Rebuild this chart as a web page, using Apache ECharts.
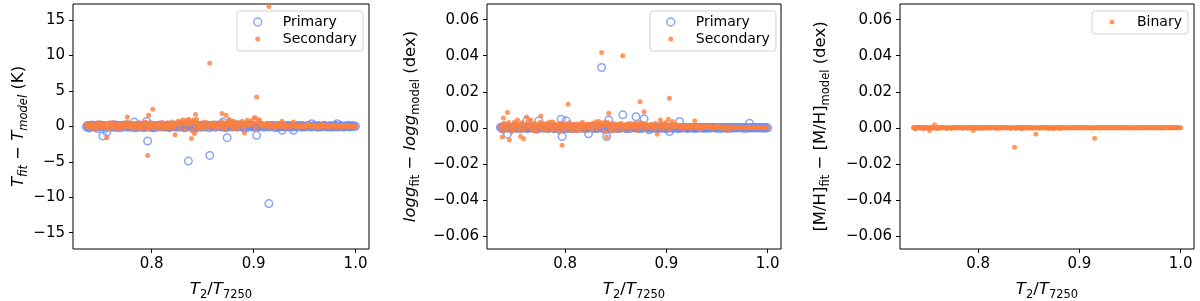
<!DOCTYPE html>
<html><head><meta charset="utf-8">
<script src="https://cdn.jsdelivr.net/npm/echarts@6/dist/echarts.min.js"></script>
<style>html,body{margin:0;padding:0;background:#fff}#c{width:1200px;height:301px}</style>
</head><body><div id="c"></div>
<script>
// T2 / T7250 ratio of the binaries with visible residuals
const ratio = [
 0.736,0.738,0.739,0.741,0.743,0.745,0.747,0.749,0.752,0.753,
 0.756,0.757,0.759,0.762,0.764,0.766,0.769,0.771,0.774,0.776,
 0.777,0.780,0.783,0.785,0.788,0.790,0.793,0.795,0.796,0.797,
 0.799,0.801,0.803,0.806,0.808,0.811,0.813,0.816,0.818,0.821,
 0.823,0.826,0.828,0.831,0.833,0.836,0.837,0.839,0.841,0.842,
 0.843,0.844,0.846,0.849,0.851,0.854,0.857,0.859,0.862,0.864,
 0.867,0.869,0.870,0.873,0.874,0.876,0.878,0.880,0.883,0.885,
 0.888,0.891,0.894,0.896,0.899,0.902,0.903,0.906,0.908,0.911,
 0.913,0.915,0.918,0.921,0.924,0.926,0.928,0.931,0.934,0.937,
 0.939,0.942,0.945,0.948,0.951,0.954,0.957,0.960,0.963,0.966,
 0.969,0.972,0.975,0.978,0.980,0.982,0.985,0.988,0.991,0.994,
 0.997,1.000];

// T2 / T7250 ratio of the bulk of well-recovered binaries (dense band near zero)
const ratioBulk = [
 0.7368,0.7381,0.7397,0.7412,0.7425,0.7441,0.7456,0.7470,0.7484,0.7499,
 0.7515,0.7528,0.7543,0.7559,0.7572,0.7588,0.7601,0.7617,0.7631,0.7645,
 0.7660,0.7676,0.7689,0.7704,0.7719,0.7733,0.7749,0.7762,0.7778,0.7791,
 0.7806,0.7822,0.7835,0.7850,0.7866,0.7879,0.7894,0.7909,0.7923,0.7939,
 0.7952,0.7967,0.7983,0.7996,0.8011,0.8027,0.8040,0.8055,0.8071,0.8084,
 0.8099,0.8114,0.8128,0.8144,0.8157,0.8172,0.8188,0.8201,0.8216,0.8232,
 0.8245,0.8260,0.8275,0.8289,0.8305,0.8318,0.8333,0.8349,0.8362,0.8377,
 0.8393,0.8406,0.8421,0.8436,0.8450,0.8466,0.8479,0.8494,0.8510,0.8523,
 0.8538,0.8554,0.8567,0.8582,0.8597,0.8611,0.8627,0.8640,0.8655,0.8671,
 0.8684,0.8699,0.8715,0.8728,0.8743,0.8758,0.8772,0.8788,0.8801,0.8816,
 0.8832,0.8845,0.8860,0.8876,0.8889,0.8904,0.8919,0.8933,0.8949,0.8962,
 0.8977,0.8993,0.9006,0.9021,0.9037,0.9050,0.9065,0.9080,0.9094,0.9110,
 0.9123,0.9138,0.9154,0.9167,0.9182,0.9198,0.9211,0.9226,0.9241,0.9255,
 0.9271,0.9284,0.9299,0.9315,0.9328,0.9343,0.9359,0.9372,0.9387,0.9402,
 0.9416,0.9432,0.9445,0.9460,0.9476,0.9489,0.9504,0.9520,0.9533,0.9548,
 0.9563,0.9577,0.9593,0.9606,0.9621,0.9637,0.9650,0.9665,0.9681,0.9694,
 0.9709,0.9724,0.9738,0.9754,0.9767,0.9782,0.9798,0.9811,0.9826,0.9842,
 0.9855,0.9870,0.9885,0.9899,0.9915,0.9928,0.9943,0.9959,0.9972,0.9987];

// Teff residuals (K)
const teffPrimary = [
 -0.1,0.1,-0.2,0.05,0.1,-0.1,0.2,0.0,-1.37,0.1,
 -0.8,0.0,0.1,-0.1,0.2,0.0,-0.2,0.1,0.0,0.1,
 -0.1,0.0,0.6,-0.2,0.1,0.0,-0.1,0.7,-2.07,0.1,
 0.0,-0.2,0.1,0.0,0.2,-0.1,0.0,0.1,-0.1,0.0,
 0.1,-0.1,0.0,0.2,-0.1,-4.9,0.1,0.0,-0.2,0.1,
 -0.3,0.0,0.1,-0.1,0.0,0.2,-4.1,0.0,-0.1,0.1,
 0.0,0.1,0.6,-0.1,-1.6,0.0,0.2,0.4,-0.1,0.0,
 0.1,-0.2,0.0,0.1,-0.1,0.0,-1.27,0.1,0.0,-0.1,
 0.0,-10.9,0.1,0.0,-0.1,0.1,-0.56,0.0,0.1,-0.1,
 -0.56,0.0,0.1,-0.1,0.0,0.1,0.38,0.0,-0.1,0.0,
 0.1,0.0,-0.1,0.0,0.1,0.38,0.0,-0.1,0.0,0.1,
 0.0,0.0];
const teffPrimaryBulk = [
 0.1,-0.2,0.0,0.2,-0.1,0.0,0.1,-0.3,0.0,0.2,
 -0.1,0.0,0.1,-0.2,0.0,0.1,0.0,-0.1,0.2,0.0,
 -0.2,0.1,0.0,0.0,-0.1,0.2,0.0,-0.1,0.1,0.0,
 0.0,-0.2,0.1,0.0,0.2,-0.1,0.0,0.1,-0.2,0.0,
 0.1,0.0,-0.1,0.2,0.0,-0.2,0.1,0.0,-0.1,0.1,
 0.0,0.2,-0.1,0.0,0.1,-0.2,0.0,0.1,0.0,-0.1,
 0.2,0.0,-0.1,0.1,0.0,-0.2,0.1,0.0,0.2,-0.1,
 0.0,0.1,-0.2,0.0,0.1,0.0,-0.1,0.2,0.0,-0.1,
 0.1,0.0,-0.2,0.1,0.0,0.1,-0.1,0.0,0.2,0.0,
 -0.1,0.1,0.0,-0.2,0.1,0.0,0.2,-0.1,0.0,0.1,
 0.0,-0.1,0.2,0.0,-0.1,0.1,0.0,-0.2,0.1,0.0,
 0.1,0.0,-0.1,0.0,0.2,-0.1,0.0,0.1,-0.1,0.0,
 0.0,0.1,-0.1,0.0,0.1,0.0,-0.2,0.1,0.0,-0.1,
 0.1,0.0,-0.1,0.1,0.0,-0.1,0.1,0.0,-0.1,0.0,
 0.0,0.1,0.0,-0.1,0.1,0.0,-0.1,0.0,0.1,0.0,
 -0.1,0.0,0.1,0.0,-0.1,0.1,0.0,-0.1,0.0,0.1,
 0.0,-0.1,0.0,0.1,0.0,-0.1,0.1,0.0,-0.1,0.0,
 0.1,0.0,-0.1,0.0,0.1,0.0,-0.1,0.0,0.1,0.0];
const teffSecondary = [
 0.2,-0.1,0.3,0.1,-0.3,0.2,0.4,0.0,-0.2,0.3,
 -1.6,0.2,0.5,-0.2,0.3,0.1,-0.3,0.2,0.4,1.3,
 0.1,-0.2,0.3,0.0,-0.4,0.2,0.5,-0.3,-4.1,1.55,
 0.3,2.4,-0.2,0.4,0.1,-0.3,0.2,0.5,0.0,-0.2,
 -1.2,0.3,0.6,0.4,0.8,0.2,0.7,-1.7,0.9,-1.0,
 1.65,1.0,-0.3,0.2,0.4,-0.2,8.9,0.3,0.1,0.2,
 -0.2,1.8,0.3,1.55,0.2,1.0,0.4,-0.3,0.2,0.5,
 0.3,-0.94,0.85,0.2,0.5,1.17,4.13,0.85,0.3,0.1,
 0.2,16.9,-0.1,0.3,0.0,0.2,0.7,-0.1,0.1,0.2,
 0.6,0.0,0.2,-0.1,0.1,0.3,0.0,0.1,-0.2,0.1,
 0.0,0.2,-0.1,0.1,0.0,0.1,-0.1,0.0,0.1,0.0,
 0.0,0.0];
const teffSecondaryBulk = [
 0.3,-0.2,0.1,0.4,-0.1,0.2,-0.3,0.1,0.5,-0.2,
 0.2,0.4,-0.1,0.3,0.0,-0.4,0.2,0.5,-0.1,0.1,
 -0.3,0.2,0.4,0.0,0.3,-0.2,0.1,0.6,-0.1,0.2,
 0.4,-0.3,0.1,0.3,-0.1,0.5,0.0,-0.2,0.3,0.6,
 0.2,-0.4,0.5,0.1,-0.2,0.4,0.0,0.3,-0.3,0.2,
 0.5,0.1,-0.2,0.3,0.0,-0.4,0.2,0.6,-0.1,0.3,
 0.4,0.7,-0.3,0.5,0.9,0.3,-0.5,0.8,1.0,0.4,
 -0.6,0.7,0.3,-0.2,0.5,0.1,0.4,-0.3,0.2,0.6,
 0.1,-0.2,0.4,0.2,0.0,0.5,-0.3,0.3,0.1,0.4,
 0.7,0.2,-0.4,0.5,0.3,0.8,0.1,-0.2,0.6,0.3,
 0.5,-0.3,0.4,0.2,0.7,-0.2,0.3,0.6,0.1,0.4,
 0.8,0.3,1.2,-0.3,0.5,0.9,0.2,0.4,-0.2,0.3,
 0.2,0.4,-0.1,0.3,0.0,0.2,-0.2,0.1,0.3,0.0,
 0.2,-0.1,0.3,0.0,0.1,-0.2,0.2,0.0,0.1,0.3,
 0.0,0.1,-0.1,0.2,0.0,0.1,-0.1,0.2,0.0,0.1,
 0.1,0.0,0.2,-0.1,0.0,0.1,0.0,0.3,-0.1,0.0,
 0.1,0.0,-0.1,0.1,0.0,0.2,0.0,-0.1,0.1,0.0,
 0.0,0.1,0.0,-0.1,0.1,0.0,0.1,0.0,-0.1,0.0];

// log g residuals (dex)
const loggPrimary = [
 0.0003,-0.0005,0.0008,0.0,-0.0035,0.0004,-0.0003,0.0006,0.0,0.0005,
 -0.0004,0.0002,0.0,0.0039,-0.0003,0.0006,0.0,-0.0005,0.0039,0.0003,
 0.0,0.0005,-0.0003,0.0,0.0006,-0.0004,0.0,0.0004,0.0048,-0.0048,
 0.0,0.0039,-0.0004,0.0,0.0005,-0.0003,0.0,0.0004,-0.0002,0.0,
 -0.0033,0.0003,0.0,-0.0004,0.0005,0.0335,0.0,0.0004,-0.0048,0.0,
 0.0044,-0.0003,0.0,0.0005,-0.0004,0.0,0.0072,0.0003,-0.0005,0.0,
 0.0004,0.0,0.0062,-0.0003,0.0,0.0004,0.005,0.0,-0.0011,0.0003,
 0.0,-0.0004,0.0003,0.0,-0.0003,0.0,-0.002,0.0004,0.0,-0.0003,
 0.0035,0.0,0.0003,-0.0003,0.0,0.0002,-0.0004,0.0,0.0003,0.0,
 -0.0002,0.0,0.0003,0.0,-0.0002,0.0,0.0002,0.0,-0.0002,0.0,
 0.0,0.0002,0.0,-0.0002,0.0,0.0026,0.0,0.0002,0.0,-0.0001,
 0.0,0.0];
const loggPrimaryBulk = [
 0.0002,-0.0004,0.0,0.0005,-0.0002,0.0,0.0003,-0.0005,0.0,0.0002,
 -0.0003,0.0,0.0004,-0.0002,0.0,0.0003,0.0,-0.0004,0.0002,0.0,
 0.0004,0.0,-0.0003,0.0,0.0002,-0.0005,0.0,0.0003,0.0,-0.0002,
 0.0,0.0005,-0.0002,0.0,0.0003,0.0,-0.0004,0.0002,0.0,0.0004,
 -0.0002,0.0,0.0003,-0.0004,0.0,0.0002,0.0,-0.0003,0.0005,0.0,
 0.0002,-0.0003,0.0,0.0004,0.0,-0.0002,0.0003,0.0,-0.0004,0.0,
 0.0003,0.0,-0.0002,0.0,0.0004,-0.0003,0.0,0.0002,0.0,-0.0005,
 0.0,0.0003,-0.0002,0.0,0.0004,0.0,-0.0003,0.0002,0.0,0.0003,
 -0.0003,0.0,0.0002,0.0,-0.0004,0.0003,0.0,-0.0002,0.0,0.0004,
 0.0,0.0003,-0.0002,0.0,0.0002,-0.0003,0.0,0.0004,0.0,-0.0002,
 0.0002,0.0,-0.0003,0.0002,0.0,-0.0002,0.0003,0.0,-0.0002,0.0,
 0.0,0.0002,-0.0003,0.0,0.0003,0.0,-0.0002,0.0,0.0002,-0.0002,
 0.0,-0.0002,0.0,0.0002,0.0,-0.0002,0.0,0.0002,0.0,-0.0001,
 0.0002,0.0,-0.0002,0.0,0.0001,0.0,-0.0002,0.0,0.0002,0.0,
 0.0,-0.0001,0.0,0.0002,0.0,-0.0001,0.0,0.0001,0.0,-0.0002,
 0.0001,0.0,-0.0001,0.0,0.0002,0.0,-0.0001,0.0,0.0001,0.0,
 0.0,0.0001,0.0,-0.0001,0.0,0.0001,0.0,-0.0001,0.0,0.0001,
 0.0,-0.0001,0.0,0.0001,0.0,0.0,0.0001,0.0,-0.0001,0.0];
const loggSecondary = [
 0.0006,-0.0051,0.0054,0.0012,0.0085,-0.0068,0.0015,-0.0008,0.002,0.0044,
 -0.0048,0.0018,-0.006,0.006,0.0012,0.0044,-0.0015,0.002,0.0008,0.0066,
 0.0025,-0.0012,0.0015,0.0032,-0.0008,0.0018,0.0006,0.0024,0.0012,-0.0096,
 0.0015,0.0022,0.0131,-0.0012,0.002,0.0008,-0.0015,0.0025,0.0012,0.0005,
 0.0018,-0.0008,0.0022,0.0012,0.0035,0.0418,0.0015,0.003,-0.0051,0.0025,
 0.0081,0.0012,-0.0018,0.0022,0.001,0.0015,0.040,0.0008,0.0012,0.0025,
 0.0015,0.0022,0.0008,0.0012,0.0145,0.0025,0.009,0.0018,0.0012,0.0008,
 0.0015,-0.0035,0.0044,0.0012,0.0022,0.0048,0.0164,0.0035,0.0012,0.0008,
 0.0015,0.0008,0.0012,0.0005,0.0008,0.0012,0.0039,0.0006,0.0004,0.0008,
 0.0005,0.0012,0.0004,0.0008,0.0003,0.0006,0.0004,-0.0015,0.0003,0.0005,
 0.0002,0.0004,0.0003,0.0001,0.0003,0.0002,0.0004,0.0001,0.0002,0.0001,
 0.0002,0.0];
const loggSecondaryBulk = [
 0.0012,-0.0018,0.0025,0.0005,-0.0010,0.0030,0.0008,-0.0022,0.0015,0.0032,
 -0.0005,0.0020,0.0010,-0.0015,0.0028,0.0006,-0.0008,0.0018,0.0035,0.0002,
 0.0015,-0.0012,0.0024,0.0008,-0.0020,0.0012,0.0030,0.0004,-0.0010,0.0022,
 0.0009,0.0026,-0.0015,0.0014,0.0004,0.0032,-0.0006,0.0018,0.0010,-0.0022,
 0.0025,0.0006,-0.0012,0.0020,0.0012,-0.0004,0.0028,0.0008,-0.0016,0.0014,
 0.0004,0.0022,-0.0010,0.0016,0.0006,0.0030,-0.0014,0.0010,0.0020,0.0002,
 0.0018,-0.0008,0.0026,0.0010,0.0034,-0.0012,0.0020,0.0006,0.0028,0.0012,
 -0.0020,0.0015,0.0030,0.0008,-0.0010,0.0024,0.0012,0.0004,-0.0015,0.0020,
 0.0010,0.0026,-0.0008,0.0014,0.0004,0.0022,0.0010,-0.0012,0.0018,0.0006,
 0.0024,0.0010,-0.0014,0.0030,0.0012,0.0006,0.0022,-0.0008,0.0016,0.0010,
 0.0005,0.0020,0.0012,-0.0010,0.0026,0.0008,0.0014,0.0002,0.0024,-0.0006,
 0.0016,0.0028,0.0006,0.0012,-0.0012,0.0022,0.0010,0.0004,0.0018,0.0008,
 0.0010,0.0004,0.0014,-0.0005,0.0008,0.0012,0.0002,0.0010,-0.0004,0.0006,
 0.0008,0.0002,0.0012,0.0004,-0.0006,0.0010,0.0006,0.0002,0.0008,0.0004,
 0.0004,0.0008,0.0002,-0.0004,0.0006,0.0003,0.0008,0.0001,0.0005,-0.0002,
 0.0005,0.0002,0.0006,0.0001,0.0004,-0.0003,0.0005,0.0002,0.0004,0.0001,
 0.0003,0.0001,0.0004,0.0002,-0.0002,0.0003,0.0001,0.0004,0.0002,0.0001,
 0.0002,0.0003,0.0001,0.0002,0.0003,0.0001,-0.0001,0.0002,0.0001,0.0002];

// [M/H] residuals of the binary (dex)
const mhBinary = [
 0.0,-0.0005,0.0002,0.0,0.0004,-0.0003,0.0,0.0002,-0.0015,0.0003,
 0.0,0.0017,-0.0004,0.0,0.0003,0.0,-0.0002,0.0,0.0002,0.0,
 0.0,0.0002,0.0,-0.0002,0.0,0.0,0.0002,-0.0015,0.0,0.0,
 0.0,0.0002,-0.0003,0.0,0.0,0.0002,0.0,0.0,-0.0002,0.0,
 0.0,0.0002,0.0,0.0,-0.0002,-0.0107,0.0,0.0002,0.0,-0.0003,
 0.0,-0.0004,0.0,0.0002,0.0,0.0,-0.0034,0.0,0.0,0.0002,
 0.0,-0.0003,0.0,0.0,-0.0003,0.0,0.0002,-0.0003,0.0,0.0,
 0.0,0.0,0.0002,0.0,0.0,0.0,0.0002,0.0,0.0,0.0,
 0.0,-0.0057,0.0,0.0,0.0002,0.0,0.0,0.0,0.0,0.0,
 0.0,0.0,0.0,0.0,0.0,0.0,0.0,0.0,0.0,0.0,
 0.0,0.0,0.0,0.0,0.0,0.0,0.0,0.0,0.0,0.0,
 0.0,0.0];
const mhBinaryBulk = [
 0.0002,-0.0002,0.0,0.0003,-0.0001,0.0,0.0002,-0.0003,0.0,0.0001,
 -0.0002,0.0,0.0002,-0.0001,0.0,0.0003,0.0,-0.0002,0.0001,0.0,
 0.0002,0.0,-0.0002,0.0,0.0001,-0.0003,0.0,0.0002,0.0,-0.0001,
 0.0,0.0002,-0.0001,0.0,0.0002,0.0,-0.0002,0.0001,0.0,0.0002,
 -0.0001,0.0,0.0002,-0.0002,0.0,0.0001,0.0,-0.0002,0.0002,0.0,
 0.0001,-0.0002,0.0,0.0002,0.0,-0.0001,0.0002,0.0,-0.0002,0.0,
 0.0002,0.0,-0.0001,0.0,0.0002,-0.0002,0.0,0.0001,0.0,-0.0002,
 0.0,0.0002,-0.0001,0.0,0.0002,0.0,-0.0002,0.0001,0.0,0.0001,
 -0.0002,0.0,0.0001,0.0,-0.0002,0.0001,0.0,-0.0001,0.0,0.0002,
 0.0,0.0001,-0.0001,0.0,0.0001,-0.0002,0.0,0.0002,0.0,-0.0001,
 0.0001,0.0,-0.0001,0.0001,0.0,-0.0001,0.0001,0.0,-0.0001,0.0,
 0.0,0.0001,-0.0001,0.0,0.0001,0.0,-0.0001,0.0,0.0001,-0.0001,
 0.0,-0.0001,0.0,0.0001,0.0,-0.0001,0.0,0.0001,0.0,0.0,
 0.0001,0.0,-0.0001,0.0,0.0,0.0,-0.0001,0.0,0.0001,0.0,
 0.0,0.0,0.0,0.0001,0.0,-0.0001,0.0,0.0,0.0,-0.0001,
 0.0,0.0,-0.0001,0.0,0.0001,0.0,0.0,0.0,0.0,0.0,
 0.0,0.0001,0.0,0.0,0.0,0.0,0.0,-0.0001,0.0,0.0,
 0.0,0.0,0.0,0.0,0.0,0.0,0.0,0.0,0.0,0.0];

const xTicks = [0.8, 0.9, 1.0];
const teffTicks = [-15, -10, -5, 0, 5, 10, 15];
const dexTicks = [-0.06, -0.04, -0.02, 0, 0.02, 0.04, 0.06];

const BLUE = '#6b8ef5', ORANGE = '#fd7f3e';
const FONT = 'DejaVu Sans';
const allRatio = ratioBulk.concat(ratio);
const pair = (bulk, ys) => allRatio.map((x, i) => [x, bulk.concat(ys)[i]]);
const minus = (s) => s.replace('-', '\u2212');

const rich = {
  n: {fontFamily: FONT, fontSize: 16.5, color: '#000', lineHeight: 17, verticalAlign: 'top'},
  i: {fontFamily: FONT, fontSize: 16.5, color: '#000', fontStyle: 'italic', lineHeight: 17, verticalAlign: 'top'},
  s: {fontFamily: FONT, fontSize: 11.5, color: '#000', lineHeight: 28},
  si: {fontFamily: FONT, fontSize: 11.5, color: '#000', fontStyle: 'italic', lineHeight: 28}
};

const grids = [
  {left: 73, top: 4, width: 296, height: 245},
  {left: 487, top: 4, width: 294, height: 245},
  {left: 900, top: 4, width: 294, height: 245}
].map(g => Object.assign(g, {show: true, borderColor: '#000', borderWidth: 1,
  backgroundColor: 'transparent', containLabel: false, outerBoundsMode: 'none'}));

const xAxes = [0, 1, 2].map(k => ({
  type: 'value', gridIndex: k, min: 0.7228, max: 1.0132,
  name: '{i|T}{s|2}{n|/}{i|T}{s|7250}', nameLocation: 'middle', nameGap: 32,
  nameMoveOverlap: false,
  nameTextStyle: {rich: rich},
  axisLine: {show: false, onZero: false},
  axisTick: {show: true, length: 4, inside: false, customValues: xTicks, lineStyle: {color: '#000'}},
  axisLabel: {customValues: xTicks, formatter: v => v.toFixed(1), fontFamily: FONT, fontSize: 15, color: '#000', margin: 8},
  splitLine: {show: false}
}));

const yNames = [
  '{i|T}{si|fit}{n| \u2212 }{i|T}{si|model}{n| (K)}',
  '{i|logg}{s|fit}{n| \u2212 }{i|logg}{s|model}{n| (dex)}',
  '{n|[M/H]}{s|fit}{n| \u2212 [M/H]}{s|model}{n| (dex)}'
];
const yGaps = [35, 56.5, 59.5];
const yAxes = [0, 1, 2].map(k => {
  const teff = k === 0;
  const ticks = teff ? teffTicks : dexTicks;
  return {
    type: 'value', gridIndex: k,
    min: teff ? -17.3 : -0.0672, max: teff ? 17.25 : 0.0687,
    name: yNames[k], nameLocation: 'middle', nameRotate: 90, nameGap: yGaps[k],
    nameMoveOverlap: false,
    nameTextStyle: {rich: rich},
    axisLine: {show: false, onZero: false},
    axisTick: {show: true, length: 4, inside: false, customValues: ticks, lineStyle: {color: '#000'}},
    axisLabel: {customValues: ticks, formatter: v => minus(teff ? String(Math.round(v)) : v.toFixed(2)),
      fontFamily: FONT, fontSize: 15, color: '#000', margin: 8},
    splitLine: {show: false}
  };
});

const primaryStyle = {color: 'rgba(0,0,0,0)', borderColor: BLUE, borderWidth: 1.5};
const dotIcon = 'path://M0,0M8,8M6.5,4A2.5,2.5,0,1,1,1.5,4A2.5,2.5,0,1,1,6.5,4Z';

function primary(k, bulk, ys) {
  return {type: 'scatter', name: 'Primary', xAxisIndex: k, yAxisIndex: k, data: pair(bulk, ys),
    symbol: 'circle', symbolSize: 7.5, itemStyle: primaryStyle, z: 2};
}
function secondary(k, name, bulk, ys) {
  return {type: 'scatter', name: name, xAxisIndex: k, yAxisIndex: k, data: pair(bulk, ys),
    symbol: 'circle', symbolSize: 5, itemStyle: {color: ORANGE}, z: 3};
}

const legendBase = {
  orient: 'vertical', selectedMode: false, itemWidth: 8, itemHeight: 8, itemGap: 3,
  padding: [4, 6, 5, 16], backgroundColor: 'rgba(255,255,255,0.8)', borderColor: '#d3d3d3',
  borderWidth: 1, borderRadius: 3,
  formatter: '{t|{name}}',
  textStyle: {fontFamily: FONT, fontSize: 14, color: '#000',
    rich: {t: {fontFamily: FONT, fontSize: 14, color: '#000', lineHeight: 16, padding: [0, 0, 0, 16]}}}
};
const twoItems = [
  {name: 'Primary', icon: 'circle', itemStyle: primaryStyle},
  {name: 'Secondary', icon: dotIcon, itemStyle: {color: ORANGE}}
];

const chart = echarts.init(document.getElementById('c'), null, {renderer: 'canvas'});
chart.setOption({
  animation: false,
  backgroundColor: '#fff',
  grid: grids,
  xAxis: xAxes,
  yAxis: yAxes,
  legend: [
    Object.assign({}, legendBase, {left: 237, top: 11, data: twoItems}),
    Object.assign({}, legendBase, {left: 650, top: 11, data: twoItems}),
    Object.assign({}, legendBase, {left: 1092, top: 11, data: [{name: 'Binary', icon: dotIcon, itemStyle: {color: ORANGE}}]})
  ],
  series: [
    primary(0, teffPrimaryBulk, teffPrimary),
    secondary(0, 'Secondary', teffSecondaryBulk, teffSecondary),
    primary(1, loggPrimaryBulk, loggPrimary),
    secondary(1, 'Secondary', loggSecondaryBulk, loggSecondary),
    secondary(2, 'Binary', mhBinaryBulk, mhBinary)
  ]
});
</script></body></html>
